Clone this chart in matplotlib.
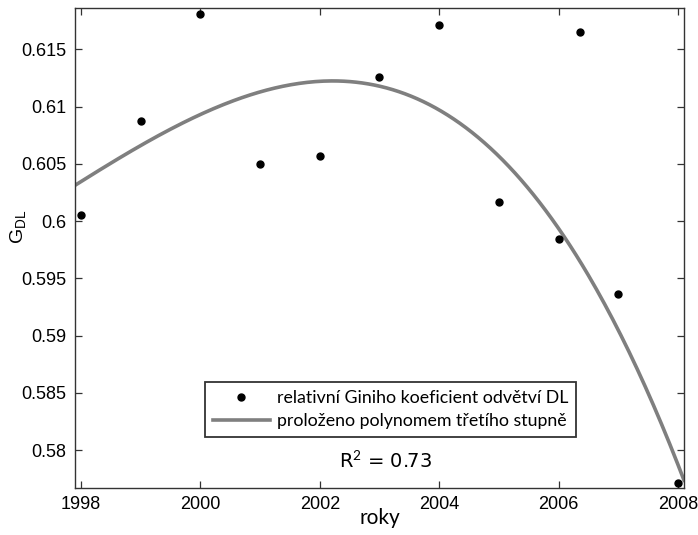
import numpy as np
import matplotlib
matplotlib.use("Agg")
from matplotlib import pyplot as plt

# ============================== data ==============================
years = [1998, 1999, 2000, 2001, 2002, 2003, 2004, 2005, 2006, 2007, 2008]
gini = [0.6005, 0.6087, 0.6181, 0.6050, 0.6057, 0.6126, 0.6171, 0.6017, 0.5984, 0.5936, 0.5771]
# one stray point drawn between 2006 and 2007 (not part of the fit)
extra_x = [2006.35]
extra_y = [0.6165]

x_ticks = [1998, 2000, 2002, 2004, 2006, 2008]
y_ticks = [0.58, 0.585, 0.59, 0.595, 0.6, 0.605, 0.61, 0.615]
y_tick_labels = ["0.58", "0.585", "0.59", "0.595", "0.6", "0.605", "0.61", "0.615"]

label_points = "relativní Giniho koeficient odvětví DL"
label_fit = "proloženo polynomem třetího stupně"
r2_text = r"R$^2$ = 0.73"

plt.rcParams["mathtext.fontset"] = "custom"
plt.rcParams["mathtext.rm"] = "Lato"
plt.rcParams["mathtext.it"] = "Lato:italic"
plt.rcParams["mathtext.bf"] = "Lato:bold"

# ============================== figure ==============================
W, H = 698, 535
fig = plt.figure(figsize=(W / 100, H / 100), dpi=100)
ax = fig.add_axes([75 / W, 1 - 488 / H, 609 / W, 480 / H])

# third degree polynomial fitted to the yearly points
coef = np.polyfit(years, gini, 3)
xs = np.linspace(1997.9, 2008.1, 300)
ax.plot(xs, np.polyval(coef, xs), color="#7f7f7f", lw=2.6, label=label_fit, zorder=2)

ax.plot(years + extra_x, gini + extra_y, "o", color="black", ms=5, label=label_points,
        zorder=3, clip_on=False)

ax.set_xlim(1997.9, 2008.1)
ax.set_ylim(0.5767, 0.6186)
ax.set_xticks(x_ticks)
ax.set_xticklabels([str(v) for v in x_ticks], fontfamily="Liberation Sans", fontsize=13)
ax.set_yticks(y_ticks)
ax.set_yticklabels(y_tick_labels, fontfamily="Liberation Sans", fontsize=13)
ax.tick_params(direction="in", length=5, width=0.9, top=True, right=True, color="#333333", pad=6)
for s in ax.spines.values():
    s.set_linewidth(1.0)
    s.set_color("#333333")

ax.set_xlabel("roky", fontfamily="Lato", fontsize=15, labelpad=0)
ax.xaxis.set_label_coords(0.5, -0.042)
ax.set_ylabel(r"$\mathregular{G_{DL}}$", fontfamily="Liberation Sans", fontsize=14)
ax.yaxis.set_label_coords(-0.077, 0.545)

handles, labels = ax.get_legend_handles_labels()
leg = ax.legend(handles[::-1], labels[::-1], loc="upper left",
                bbox_to_anchor=((205 - 75) / 609, (488 - 382) / 480),
                prop={"family": "Lato", "size": 12.8}, frameon=True, fancybox=False,
                edgecolor="black", handlelength=3.2, handletextpad=0.4,
                borderpad=0.45, labelspacing=0.4, borderaxespad=0)
leg.get_frame().set_linewidth(1.3)

ax.text(2003.1, 0.5790, r2_text, ha="center", va="center", fontsize=14)

fig.savefig("out.png", dpi=100)
